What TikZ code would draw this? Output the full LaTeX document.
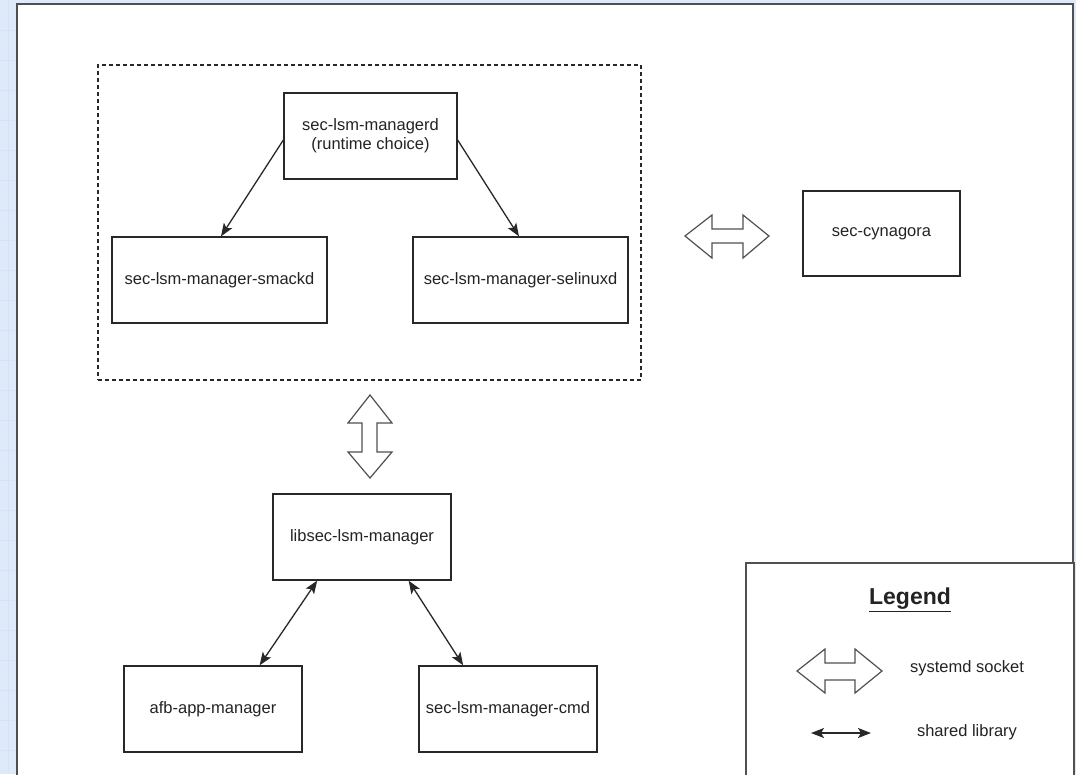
\documentclass[tikz,border=0pt]{standalone}
\usepackage{fontspec}
\setmainfont{Liberation Sans}
\usetikzlibrary{arrows.meta,calc}
\definecolor{bgblue}{RGB}{222,234,250}
\definecolor{gridblue}{RGB}{212,227,247}
\definecolor{linecol}{RGB}{40,40,40}
\definecolor{framecol}{RGB}{80,80,80}
\definecolor{textcol}{RGB}{35,35,35}
\tikzset{
  box/.style={draw=linecol, line width=1.3pt, fill=white, inner sep=0pt, text=textcol,
    font=\fontsize{16.5}{19}\selectfont, align=center},
  lnk/.style={draw=linecol, line width=1.3pt},
  arr/.style={lnk, -{Stealth[length=13pt,width=10pt,inset=3pt]}},
  darr/.style={lnk, {Stealth[length=13pt,width=10pt,inset=3pt]}-{Stealth[length=13pt,width=10pt,inset=3pt]}},
  blockarrow/.style={draw=framecol, line width=1.2pt, fill=white, line join=miter},
  lbl/.style={text=textcol, font=\fontsize{16.5}{19}\selectfont, inner sep=0pt}
}
\begin{document}
\begin{tikzpicture}[x=1pt,y=-1pt]
\useasboundingbox (0,0) rectangle (1076,774);
% background
\fill[bgblue] (0,0) rectangle (1076,774);
\foreach \yy in {30,60,...,774} \draw[gridblue, line width=1pt] (0,\yy) -- (17,\yy);
\draw[gridblue, line width=1pt] (8,0) -- (8,774);
\fill[white] (17,4) rectangle (1073,780);
\draw[framecol, line width=1.6pt] (17,780) -- (17,4) -- (1073,4) -- (1073,780);

% group
\node[draw=linecol, line width=1.2pt, dashed, dash pattern=on 4pt off 3pt, minimum width=543pt, minimum height=315pt, inner sep=0pt] (group) at (369.5,222.5) {};

\node[box, minimum width=173pt, minimum height=86pt] (managerd) at (370.5,136) {sec-lsm-managerd\\(runtime choice)};
\node[box, minimum width=215pt, minimum height=86pt] (smackd) at (219.5,280) {sec-lsm-manager-smackd};
\node[box, minimum width=215pt, minimum height=86pt] (selinuxd) at (520.5,280) {sec-lsm-manager-selinuxd};
\node[box, minimum width=157pt, minimum height=85pt] (cynagora) at (881.5,233.5) {sec-cynagora};
\node[box, minimum width=178pt, minimum height=86pt] (libsec) at (362,537) {libsec-lsm-manager};
\node[box, minimum width=178pt, minimum height=86pt] (afb) at (213,709) {afb-app-manager};
\node[box, minimum width=178pt, minimum height=86pt] (cmd) at (508,709) {sec-lsm-manager-cmd};

% connectors
\draw[arr] ($(managerd.west)+(0,4)$) -- ($(smackd.north)+(1.5,0)$);
\draw[arr] ($(managerd.east)+(0,4)$) -- ($(selinuxd.north)+(-1.5,0)$);
\draw[darr] ($(libsec.south west)!0.25!(libsec.south east)$) -- ($(afb.north west)!0.76!(afb.north east)$);
\draw[darr] ($(libsec.south west)!0.76!(libsec.south east)$) -- ($(cmd.north west)!0.25!(cmd.north east)$);

% block arrow horizontal (socket between group and cynagora)
\draw[blockarrow] (685,236) -- (712,215) -- (712,229) -- (743,229) -- (743,215) -- (769,236) -- (743,258) -- (743,243) -- (712,243) -- (712,258) -- cycle;
% block arrow vertical (between group and libsec)
\draw[blockarrow] (370,395) -- (392,423) -- (377,423) -- (377,452) -- (392,452) -- (370,478) -- (348,452) -- (362,452) -- (362,423) -- (348,423) -- cycle;

% legend
\draw[framecol, line width=1.4pt, fill=white] (1074,790) -- (1074,563) -- (746,563) -- (746,790);
\node[lbl, font=\fontsize{23}{26}\selectfont\bfseries] (legtitle) at (910,600) {\underline{Legend}};
\draw[blockarrow] (797,671) -- (825,649) -- (825,663) -- (855,663) -- (855,649) -- (882,671) -- (855,693) -- (855,680) -- (825,680) -- (825,693) -- cycle;
\node[lbl] (socklbl) at (967,668) {systemd socket};
\coordinate (la) at (811,733);
\coordinate (lb) at (871,733);
\draw[darr, line width=1.6pt] (la) -- (lb);
\node[lbl] (liblbl) at (967,732) {shared library};
\end{tikzpicture}
\end{document}
